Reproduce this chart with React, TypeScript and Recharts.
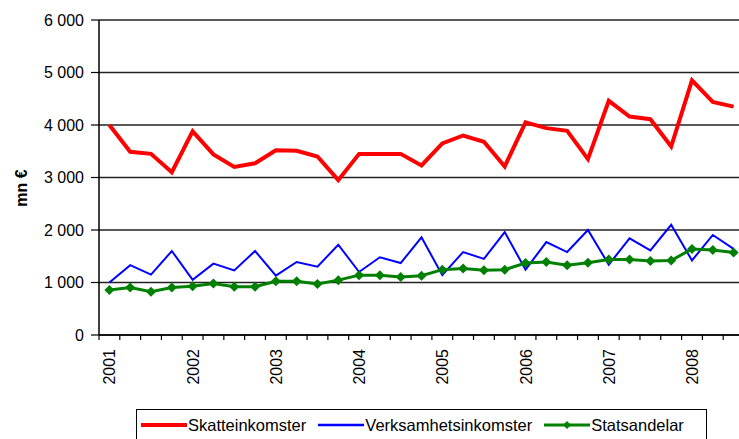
import React from "react";
import { LineChart, Line, CartesianGrid, XAxis, YAxis, Legend, Label } from "recharts";

const quarters = [
  "2001 Q1", "2001 Q2", "2001 Q3", "2001 Q4",
  "2002 Q1", "2002 Q2", "2002 Q3", "2002 Q4",
  "2003 Q1", "2003 Q2", "2003 Q3", "2003 Q4",
  "2004 Q1", "2004 Q2", "2004 Q3", "2004 Q4",
  "2005 Q1", "2005 Q2", "2005 Q3", "2005 Q4",
  "2006 Q1", "2006 Q2", "2006 Q3", "2006 Q4",
  "2007 Q1", "2007 Q2", "2007 Q3", "2007 Q4",
  "2008 Q1", "2008 Q2", "2008 Q3",
];
const yearLabels = ["2001", "2002", "2003", "2004", "2005", "2006", "2007", "2008"];

// mn €
const skatteinkomster = [
  4000, 3490, 3450, 3100, 3880, 3440, 3200, 3270, 3520, 3510, 3400, 2950,
  3450, 3450, 3450, 3230, 3650, 3800, 3680, 3210, 4050, 3940, 3890, 3350,
  4460, 4160, 4110, 3590, 4850, 4440, 4350,
];
const verksamhetsinkomster = [
  1000, 1330, 1150, 1600, 1050, 1360, 1230, 1600, 1130, 1390, 1300, 1720,
  1200, 1480, 1370, 1860, 1140, 1580, 1450, 1960, 1245, 1770, 1580, 2000,
  1340, 1840, 1610, 2100, 1420, 1905, 1640,
];
const statsandelar = [
  855, 905, 825, 905, 930, 980, 920, 920, 1025, 1025, 970, 1045,
  1140, 1140, 1105, 1130, 1245, 1265, 1235, 1245, 1370, 1390, 1330, 1375,
  1440, 1440, 1410, 1420, 1640, 1620, 1570,
];
const yTicks = [0, 1000, 2000, 3000, 4000, 5000, 6000];

const data = quarters.map((q, i) => ({
  idx: i,
  quarter: q,
  skatt: skatteinkomster[i],
  verks: verksamhetsinkomster[i],
  stats: statsandelar[i],
}));

// tick marks between quarters, labels on first quarter of each year
const xTicks = [-0.5, ...quarters.flatMap((_, i) => [i, i + 0.5])];

const FONT = "'Liberation Sans', Arial, sans-serif";

const fmt = (v: number) =>
  v >= 1000 ? `${Math.floor(v / 1000)} ${String(v % 1000).padStart(3, "0")}` : String(v);

const XTick = (props: any) => {
  const { x, y, payload } = props;
  const v = payload.value;
  if (!Number.isInteger(v)) {
    return <line x1={x} y1={y} x2={x} y2={y + 5} stroke="#000" strokeWidth={1.2} />;
  }
  const q = quarters[v];
  const year = q ? q.slice(0, 4) : "";
  if (!q || !q.endsWith("Q1") || !yearLabels.includes(year)) return <g />;
  const tx = x + 6;
  const ty = y + 14;
  return (
    <text
      x={tx}
      y={ty}
      transform={`rotate(-90 ${tx} ${ty})`}
      textAnchor="end"
      fontSize={16}
      fontFamily={FONT}
      fill="#000"
    >
      {year}
    </text>
  );
};

const Diamond = (props: any) => {
  const { cx, cy } = props;
  if (cx == null || cy == null) return <g />;
  const r = 5;
  return (
    <polygon
      points={`${cx},${cy - r} ${cx + r},${cy} ${cx},${cy + r} ${cx - r},${cy}`}
      fill="#008000"
    />
  );
};

const legendItems = [
  { name: "Skatteinkomster", color: "#ff0000", width: 4, marker: false },
  { name: "Verksamhetsinkomster", color: "#0000ff", width: 2.5, marker: false },
  { name: "Statsandelar", color: "#008000", width: 3, marker: true },
];

const LegendBox = () => (
  <div
    style={{
      boxSizing: "border-box",
      width: 571,
      height: 40,
      border: "1px solid #000",
      background: "#fff",
      display: "flex",
      alignItems: "flex-start",
      paddingTop: 6,
      paddingLeft: 4,
      gap: 12,
      fontFamily: FONT,
      fontSize: 16.5,
      lineHeight: "18px",
      color: "#000",
    }}
  >
    {legendItems.map((it) => (
      <div key={it.name} style={{ display: "flex", alignItems: "center" }}>
        <svg width={46} height={18}>
          <line x1={0} y1={9} x2={46} y2={9} stroke={it.color} strokeWidth={it.width} />
          {it.marker && <polygon points="23,5 27,9 23,13 19,9" fill={it.color} />}
        </svg>
        <span style={{ marginLeft: 1 }}>{it.name}</span>
      </div>
    ))}
  </div>
);

const App: React.FC = () => {
  return (
    <div
      style={{
        position: "absolute",
        left: 0,
        top: 0,
        width: 739,
        height: 439,
        overflow: "hidden",
        background: "#fff",
      }}
    >
      <LineChart
        width={749}
        height={439}
        data={data}
        margin={{ top: 20, right: 5, bottom: 44, left: 0 }}
      >
        <CartesianGrid vertical={false} stroke="#222" strokeWidth={1.6} />
        <XAxis
          type="number"
          dataKey="idx"
          domain={[-0.5, 30.5]}
          ticks={xTicks}
          interval={0}
          tickLine={false}
          tickSize={0}
          tickMargin={0}
          tick={<XTick />}
          height={60}
          axisLine={{ stroke: "#000", strokeWidth: 1.5 }}
        />
        <YAxis
          type="number"
          domain={[0, 6000]}
          ticks={yTicks}
          interval={0}
          width={99}
          tickFormatter={fmt}
          tickSize={8}
          tickMargin={7}
          tickLine={{ stroke: "#000", strokeWidth: 1.2 }}
          axisLine={{ stroke: "#000", strokeWidth: 1.5 }}
          tick={{ fill: "#000", fontSize: 16, fontFamily: FONT }}
        >
          <Label
            content={() => (
              <text
                x={27}
                y={188}
                transform="rotate(-90 27 188)"
                textAnchor="middle"
                fontSize={16}
                fontWeight="bold"
                fontFamily={FONT}
                fill="#000"
              >
                mn €
              </text>
            )}
          />
        </YAxis>
        <Legend
          verticalAlign="middle"
          align="center"
          layout="horizontal"
          content={() => <LegendBox />}
          wrapperStyle={{ top: 409, left: 136, width: 571, height: 40 }}
        />
        <Line
          type="linear"
          dataKey="skatt"
          name="Skatteinkomster"
          stroke="#ff0000"
          strokeWidth={4}
          dot={false}
          isAnimationActive={false}
        />
        <Line
          type="linear"
          dataKey="verks"
          name="Verksamhetsinkomster"
          stroke="#0000ff"
          strokeWidth={2}
          dot={false}
          isAnimationActive={false}
        />
        <Line
          type="linear"
          dataKey="stats"
          name="Statsandelar"
          stroke="#008000"
          strokeWidth={3}
          dot={<Diamond />}
          activeDot={false}
          isAnimationActive={false}
        />
      </LineChart>
    </div>
  );
};

export default App;
